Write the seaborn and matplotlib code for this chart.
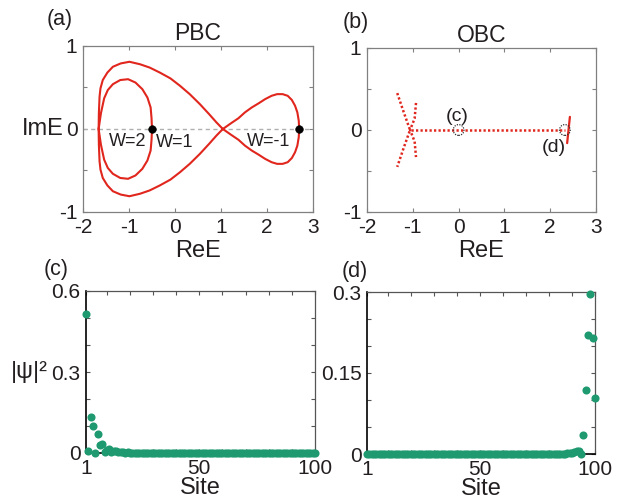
import numpy as np
import pandas as pd
import matplotlib
matplotlib.use("Agg")
import matplotlib.pyplot as plt
import seaborn as sns

sns.set_style("ticks")
plt.rcParams['font.family'] = ['Liberation Sans', 'DejaVu Sans']

# ---------------- data ----------------
# PBC spectrum (traced closed curve), ReE and ImE
pbc_re = [2.70, 2.69, 2.66, 2.61, 2.54, 2.45, 2.34, 2.22, 2.10, 1.96, 1.82, 1.67, 1.52, 1.38, 1.22, 1.04,
          0.90, 0.74, 0.54, 0.32, 0.11, -0.10, -0.33, -0.55, -0.76, -0.99, -1.18, -1.35, -1.47, -1.57, -1.62, -1.64, -1.655, -1.66,
          -1.61, -1.54, -1.46, -1.35, -1.19, -1.02, -0.86, -0.71, -0.60, -0.53, -0.51, -0.50,
          -0.51, -0.53, -0.60, -0.71, -0.86, -1.02, -1.19, -1.35, -1.46, -1.54, -1.61, -1.66,
          -1.655, -1.64, -1.62, -1.57, -1.47, -1.35, -1.18, -0.99, -0.76, -0.55, -0.33, -0.10, 0.11, 0.32, 0.54, 0.74, 0.90, 1.04,
          1.22, 1.38, 1.52, 1.67, 1.82, 1.96, 2.10, 2.22, 2.34, 2.45, 2.54, 2.61, 2.66, 2.69, 2.70]
pbc_im = [0.00, 0.10, 0.20, 0.28, 0.35, 0.40, 0.42, 0.42, 0.40, 0.36, 0.31, 0.26, 0.20, 0.13, 0.07, 0.00,
          -0.08, -0.18, -0.30, -0.42, -0.52, -0.61, -0.68, -0.74, -0.78, -0.81, -0.79, -0.75, -0.68, -0.59, -0.49, -0.39, -0.19, 0.00,
          0.19, 0.37, 0.47, 0.54, 0.59, 0.60, 0.56, 0.48, 0.38, 0.26, 0.13, 0.00,
          -0.13, -0.26, -0.38, -0.48, -0.56, -0.60, -0.59, -0.54, -0.47, -0.37, -0.19, 0.00,
          0.19, 0.39, 0.49, 0.59, 0.68, 0.75, 0.79, 0.81, 0.78, 0.74, 0.68, 0.61, 0.52, 0.42, 0.30, 0.18, 0.08, 0.00,
          -0.07, -0.13, -0.20, -0.26, -0.31, -0.36, -0.40, -0.42, -0.42, -0.40, -0.35, -0.28, -0.20, -0.10, 0.00]
pbc_dots_re = [-0.50, 2.70]
pbc_dots_im = [0.0, 0.0]
winding_labels = ["W=2", "W=1", "W=-1"]
winding_re = [-1.03, 0.00, 2.03]
winding_im = [-0.15, -0.16, -0.15]

# OBC spectrum (dotted branches)
obc_line_re = [-1.03, 2.32]
obc_line_im = [0.0, 0.0]
obc_left1_re = [-1.34, -1.20, -1.06, -1.20, -1.34]
obc_left1_im = [0.45, 0.22, 0.00, -0.22, -0.45]
obc_left2_re = [-0.93, -0.96, -1.06, -0.96, -0.93]
obc_left2_im = [0.33, 0.14, 0.00, -0.14, -0.33]
obc_right_re = [2.43, 2.40, 2.37]
obc_right_im = [0.16, 0.00, -0.16]
obc_marks_re = [0.0, 2.32]
obc_marks_im = [0.0, 0.0]
obc_mark_labels = ["(c)", "(d)"]

# |psi|^2 profiles, sites 1..100
sites = list(range(1, 101))
psi_c = [0.516, 0.006, 0.135, 0.100, 0.000, 0.072, 0.029, 0.035, 0.003, 0.012,
         0.016, 0.004, 0.006, 0.008, 0.002, 0.004, 0.003, 0.001, 0.002, 0.001,
         0.001, 0.001, 0.001, 0.000, 0.001, 0.000, 0.000, 0.000, 0.000, 0.000,
         0.000, 0.000, 0.000, 0.000, 0.000, 0.000, 0.000, 0.000, 0.000, 0.000,
         0.000, 0.000, 0.000, 0.000, 0.000, 0.000, 0.000, 0.000, 0.000, 0.000,
         0.000, 0.000, 0.000, 0.000, 0.000, 0.000, 0.000, 0.000, 0.000, 0.000,
         0.000, 0.000, 0.000, 0.000, 0.000, 0.000, 0.000, 0.000, 0.000, 0.000,
         0.000, 0.000, 0.000, 0.000, 0.000, 0.000, 0.000, 0.000, 0.000, 0.000,
         0.000, 0.000, 0.000, 0.000, 0.000, 0.000, 0.000, 0.000, 0.000, 0.000,
         0.000, 0.000, 0.000, 0.000, 0.000, 0.000, 0.000, 0.000, 0.000, 0.000]
psi_d = [0.000, 0.000, 0.000, 0.000, 0.000, 0.000, 0.000, 0.000, 0.000, 0.000,
         0.000, 0.000, 0.000, 0.000, 0.000, 0.000, 0.000, 0.000, 0.000, 0.000,
         0.000, 0.000, 0.000, 0.000, 0.000, 0.000, 0.000, 0.000, 0.000, 0.000,
         0.000, 0.000, 0.000, 0.000, 0.000, 0.000, 0.000, 0.000, 0.000, 0.000,
         0.000, 0.000, 0.000, 0.000, 0.000, 0.000, 0.000, 0.000, 0.000, 0.000,
         0.000, 0.000, 0.000, 0.000, 0.000, 0.000, 0.000, 0.000, 0.000, 0.000,
         0.000, 0.000, 0.000, 0.000, 0.000, 0.000, 0.000, 0.000, 0.000, 0.000,
         0.000, 0.000, 0.000, 0.000, 0.000, 0.000, 0.000, 0.000, 0.000, 0.000,
         0.000, 0.000, 0.000, 0.000, 0.000, 0.000, 0.000, 0.001, 0.001, 0.002,
         0.004, 0.006, 0.005, 0.000, 0.036, 0.119, 0.221, 0.296, 0.214, 0.103]

# ---------------- style ----------------
RED = "#e0261d"
GREEN = "#1f9a70"
GRAY = "#808080"
TXT = '#231f20'
TICK_FS = 15
LAB_FS = 17
TITLE_FS = 16.5
ANN_FS = 13
PANEL_FS = 15.5

fig = plt.figure(figsize=(6.26, 5.0), dpi=100)
W, H = 626.0, 500.0

def add_ax(l, t, r, b):
    return fig.add_axes([l / W, 1 - b / H, (r - l) / W, (b - t) / H])

ax_a = add_ax(83, 46, 313, 212)
ax_b = add_ax(367, 48, 596, 212)
ax_c = add_ax(86, 291, 315, 453)
ax_d = add_ax(367, 292, 595, 454)

def style_axes(ax, spine_color, left_color=None):
    for s in ax.spines.values():
        s.set_visible(True)
        s.set_color(spine_color)
        s.set_linewidth(0.9)
    if left_color is not None:
        ax.spines['left'].set_color(left_color)
        ax.spines['left'].set_linewidth(1.2)
        ax.spines['bottom'].set_color(left_color)
        ax.spines['bottom'].set_linewidth(1.2)
    ax.tick_params(direction='in', length=3, width=0.8, color=spine_color,
                   top=True, right=True, labelsize=TICK_FS, pad=4,
                   labelcolor=TXT)

# ---------- (a) PBC ----------
ax = ax_a
ax.axhline(0, color='#b0b0b0', lw=1.0, ls=(0, (3, 2.5)), zorder=1)
sns.lineplot(x=pbc_re, y=pbc_im, sort=False, estimator=None, color=RED, lw=1.5, ax=ax, zorder=2)
sns.scatterplot(x=pbc_dots_re, y=pbc_dots_im, color='black', s=30, edgecolor='black', ax=ax, zorder=3)
for lab, xr, yi in zip(winding_labels, winding_re, winding_im):
    ax.text(xr, yi, lab, fontsize=ANN_FS, ha='center', va='center', color=TXT)
ax.set_xlim(-2, 3)
ax.set_ylim(-1, 1)
ax.set_xticks([-2, -1, 0, 1, 2, 3])
ax.set_xticklabels(["-2", "-1", "0", "1", "2", "3"])
ax.set_yticks([-1, -0.5, 0, 0.5, 1])
ax.set_yticklabels(["-1", "", "0", "", "1"])
style_axes(ax, GRAY)
ax.set_xlabel("ReE", fontsize=LAB_FS, color=TXT)
ax.xaxis.set_label_coords(0.5, -0.235)
ax.xaxis.label.set_va('center')
ax.set_ylabel("ImE", fontsize=LAB_FS, rotation=0, ha='right', va='center', color=TXT)
ax.yaxis.set_label_coords(-0.085, 0.5)
ax.text(0.5, 1.075, "PBC", transform=ax.transAxes, fontsize=TITLE_FS, ha='center', va='center', color=TXT)

# ---------- (b) OBC ----------
ax = ax_b
dot_style = dict(color=RED, lw=1.8, ls=(0, (0.9, 0.9)), solid_capstyle='butt')
ax.plot(obc_line_re, obc_line_im, **dot_style)
ax.plot(obc_left1_re, obc_left1_im, **dot_style)
ax.plot(obc_left2_re, obc_left2_im, **dot_style)
ax.plot(obc_right_re, obc_right_im, color=RED, lw=1.6)
ax.scatter(obc_marks_re, obc_marks_im, s=60, facecolors='none', edgecolors='#333333',
           linewidths=0.9, linestyles=(0, (1, 1)), zorder=4)
ax.text(-0.02, 0.17, obc_mark_labels[0], fontsize=14, ha='center', va='center', color=TXT)
ax.text(2.08, -0.21, obc_mark_labels[1], fontsize=14, ha='center', va='center', color=TXT)
ax.set_xlim(-2, 3)
ax.set_ylim(-1, 1)
ax.set_xticks([-2, -1, 0, 1, 2, 3])
ax.set_xticklabels(["-2", "-1", "0", "1", "2", "3"])
ax.set_yticks([-1, -0.5, 0, 0.5, 1])
ax.set_yticklabels(["-1", "", "0", "", "1"])
style_axes(ax, GRAY)
ax.set_xlabel("ReE", fontsize=LAB_FS, color=TXT)
ax.xaxis.set_label_coords(0.5, -0.235)
ax.xaxis.label.set_va('center')
ax.text(0.5, 1.076, "OBC", transform=ax.transAxes, fontsize=TITLE_FS, ha='center', va='center', color=TXT)

# ---------- (c) and (d) ----------
df_c = pd.DataFrame({"site": sites, "psi": psi_c})
df_d = pd.DataFrame({"site": sites, "psi": psi_d})

site_ticks = [1, 10, 20, 30, 40, 50, 60, 70, 80, 90, 100]
site_labels = ["1", "", "", "", "", "50", "", "", "", "", "100"]

ax = ax_c
sns.scatterplot(data=df_c, x="site", y="psi", color=GREEN, s=34, linewidth=0, ax=ax, clip_on=False, zorder=3)
ax.set_xlim(1, 100)
ax.set_ylim(0, 0.6)
ax.set_yticks([0, 0.1, 0.2, 0.3, 0.4, 0.5, 0.6])
ax.set_yticklabels(["0", "", "", "0.3", "", "", "0.6"])
ax.set_xticks(site_ticks)
ax.set_xticklabels(site_labels)
style_axes(ax, '#555555', left_color='black')
ax.set_xlabel("Site", fontsize=LAB_FS, color=TXT)
ax.xaxis.set_label_coords(0.5, -0.216)
ax.xaxis.label.set_va('center')
ax.set_ylabel("|ψ|²", fontsize=LAB_FS, rotation=0, ha='right', va='center', color=TXT)
ax.yaxis.set_label_coords(-0.165, 0.5)

ax = ax_d
sns.scatterplot(data=df_d, x="site", y="psi", color=GREEN, s=34, linewidth=0, ax=ax, clip_on=False, zorder=3)
ax.set_xlim(1, 100)
ax.set_ylim(0, 0.3)
ax.set_yticks([0, 0.05, 0.1, 0.15, 0.2, 0.25, 0.3])
ax.set_yticklabels(["0", "", "", "0.15", "", "", "0.3"])
ax.set_xticks(site_ticks)
ax.set_xticklabels(site_labels)
style_axes(ax, '#555555', left_color='black')
ax.set_xlabel("Site", fontsize=LAB_FS, color=TXT)
ax.xaxis.set_label_coords(0.5, -0.216)
ax.xaxis.label.set_va('center')
ax.set_ylabel("")

for a in (ax_a, ax_b, ax_c, ax_d):
    if a.get_legend() is not None:
        a.get_legend().remove()

# panel labels
for lab, (px, py) in zip(["(a)", "(b)", "(c)", "(d)"], [(60, 19), (355.5, 22.5), (56, 269), (355, 271)]):
    fig.text(px / W, 1 - py / H, lab, fontsize=PANEL_FS, ha='center', va='center', color=TXT)

fig.savefig("out.png", dpi=100)
